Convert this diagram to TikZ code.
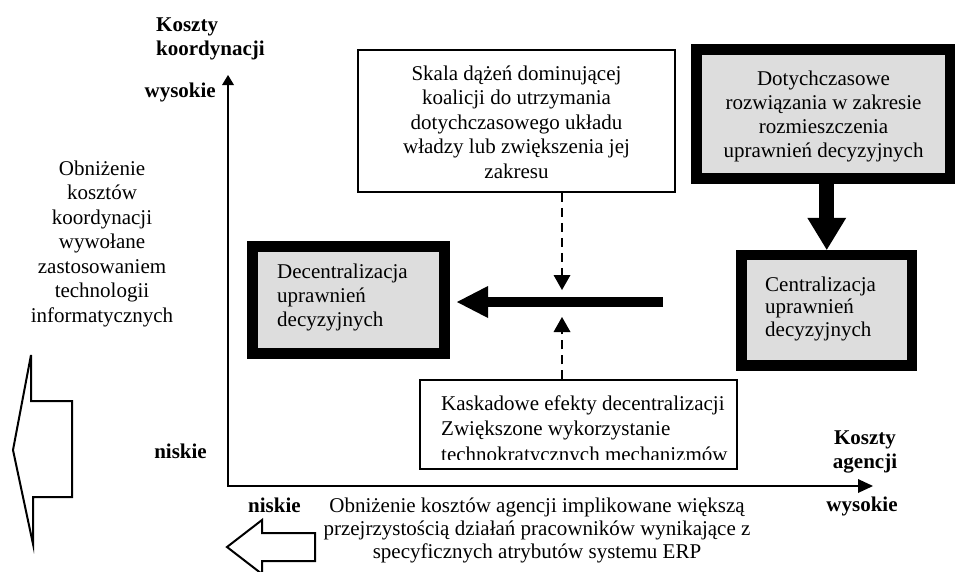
\documentclass[tikz,border=0pt]{standalone}
\usepackage{fontspec}
\setmainfont{Liberation Serif}
\usetikzlibrary{arrows.meta}
\definecolor{boxgray}{RGB}{221,221,221}
\begin{document}
\begin{tikzpicture}[x=1pt,y=-1pt,
  txt/.style={inner sep=0pt, font=\fontsize{21}{24}\selectfont},
  lbl/.style={inner sep=0pt, font=\fontsize{21}{24}\selectfont\bfseries},
  thickbox/.style={draw, line width=11pt, fill=boxgray, inner sep=0pt},
  thinbox/.style={draw, line width=1.5pt, inner sep=0pt},
  axis/.style={line width=2.5pt, {Triangle[length=10pt,width=12pt,line width=0pt]}-{Triangle[length=15pt,width=14pt,line width=0pt]}},
  dasharrow/.style={line width=2.5pt, dash pattern=on 9pt off 6pt, -{Triangle[length=15pt,width=17pt,line width=0pt]}},
  bigarrow/.style={line width=10pt, -{Triangle[length=31pt,width=32pt,line width=0pt]}},
  blockarrow/.style={draw, line width=2pt, line join=miter, fill=white}
]
\useasboundingbox (0,0) rectangle (955,571);

% axes
\coordinate (ytop) at (228,75);
\coordinate (xend) at (873,486);
\draw[axis] (ytop) |- (xend);

% axis labels (base anchor = baseline of the last line)
\node[lbl, align=left, anchor=base west] (kk) at (156,55) {Koszty\\koordynacji};
\node[lbl, anchor=base east] (wys1) at (216,97) {wysokie};
\node[lbl, anchor=base east] (nis1) at (207,458) {niskie};
\node[lbl, anchor=base west] (nis2) at (248,512) {niskie};
\node[lbl, align=center, anchor=base] (ka) at (865,468) {Koszty\\agencji};
\node[lbl, anchor=base] (wys2) at (862,511) {wysokie};

% left explanation
\node[txt, align=center, anchor=base, font=\fontsize{21}{24.5}\selectfont] (lefttxt) at (102,322)
  {Obniżenie\\kosztów\\koordynacji\\wywołane\\zastosowaniem\\technologii\\informatycznych};
\draw[blockarrow] (31,355) -- (31,401) -- (72,401) -- (72,497) -- (33,497) -- (33,544) -- (13,450) -- cycle;

% bottom explanation
\node[txt, align=center, anchor=base, font=\fontsize{21}{23}\selectfont] (bottxt) at (537,558)
  {Obniżenie kosztów agencji implikowane większą\\przejrzystością działań pracowników wynikające z\\specyficznych atrybutów systemu ERP};
\draw[blockarrow] (227,547) -- (262,520) -- (262,533) -- (315,533) -- (315,561) -- (262,561) -- (262,574) -- cycle;

% top thin box
\node[thinbox, minimum width=317pt, minimum height=142pt] (topbox) at (516.5,121) {};
\node[txt, align=center, anchor=base, font=\fontsize{21}{24.5}\selectfont] (toptxt) at (516.5,178)
  {Skala dążeń dominującej\\koalicji do utrzymania\\dotychczasowego układu\\władzy lub zwiększenia jej\\zakresu};

% bottom thin box (text clipped at its lower edge)
\begin{scope}
  \clip (420,380) rectangle (737,459);
  \node[txt, align=left, anchor=base west, font=\fontsize{21}{25.5}\selectfont] (kasktxt) at (441,461)
    {Kaskadowe efekty decentralizacji\\Zwiększone wykorzystanie\\technokratycznych mechanizmów};
\end{scope}
\node[thinbox, minimum width=317pt, minimum height=89pt] (botbox) at (578.5,424.5) {};

% thick boxes
\node[thickbox, minimum width=192pt, minimum height=107pt] (dec) at (348.5,300) {};
\node[txt, align=left, anchor=base west] (dectxt) at (277,326) {Decentralizacja\\uprawnień\\decyzyjnych};

\node[thickbox, minimum width=254pt, minimum height=129pt] (dot) at (823,113.5) {};
\node[txt, align=center, anchor=base] (dottxt) at (823.5,157) {Dotychczasowe\\rozwiązania w zakresie\\rozmieszczenia\\uprawnień decyzyjnych};

\node[thickbox, line width=10.5pt, minimum width=170.5pt, minimum height=110.5pt] (cen) at (826.75,310.25) {};
\node[txt, align=left, anchor=base west, font=\fontsize{21}{22.5}\selectfont] (centxt) at (765,336) {Centralizacja\\uprawnień\\decyzyjnych};

% arrows
\draw[line width=15pt, -{Triangle[length=32pt,width=39pt,line width=0pt]}] (dot.south -| cen.north) -- (cen.north);

\coordinate (hs) at (663,302);
\coordinate (he) at (457,302);
\draw[bigarrow] (hs) -- (he);

\coordinate (da) at (562,290);
\coordinate (db) at (562,317);
\draw[dasharrow] (topbox.south -| da) -- (da);
\draw[dasharrow] (botbox.north -| db) -- (db);
\end{tikzpicture}
\end{document}
